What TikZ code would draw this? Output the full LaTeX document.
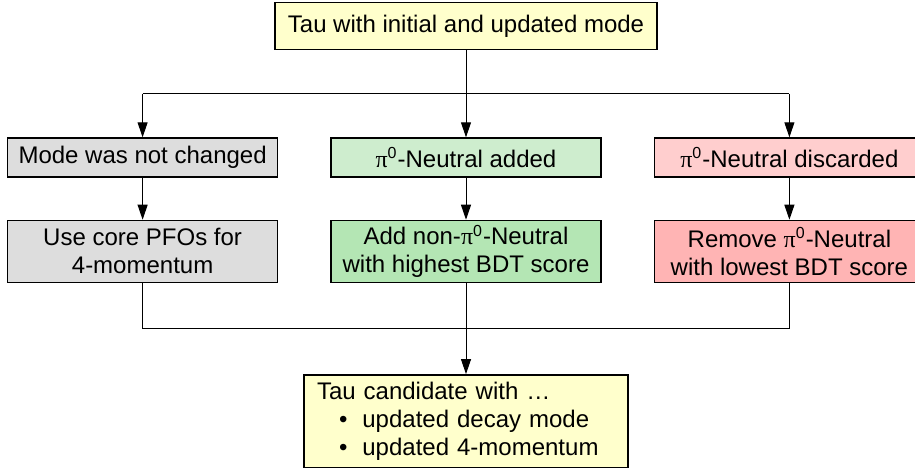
\documentclass[tikz,border=0pt]{standalone}
\usepackage{fontspec}
\setmainfont{Liberation Sans}
\newfontfamily\pifont{Liberation Serif}
\usetikzlibrary{arrows.meta, positioning, calc}

\definecolor{taufill}{RGB}{255,255,204}
\definecolor{keepfill}{RGB}{221,221,221}
\definecolor{addfill}{RGB}{206,237,206}
\definecolor{addfilldark}{RGB}{180,230,180}
\definecolor{dropfill}{RGB}{255,206,206}
\definecolor{dropfilldark}{RGB}{255,180,180}

\newcommand{\pizero}{{\pifont π}\textsuperscript{0}}

\begin{document}
\begin{tikzpicture}[
    x=0.5pt, y=-0.5pt,
    >={Triangle[length=7.5pt, width=5pt]},
    font=\fontsize{12}{14}\selectfont,
    node distance=26pt,
    box/.style={
      draw, line width=0.7pt,
      minimum width=135pt, inner sep=2pt,
      align=center},
    modebox/.style={box, minimum height=19.5pt},
    actionbox/.style={box, minimum height=31pt},
    taubox/.style={
      draw, line width=0.7pt, fill=taufill,
      inner xsep=6.5pt, inner ysep=2pt},
    link/.style={line width=0.5pt},
]
\useasboundingbox (0,0) rectangle (915,467);

\node[modebox, fill=addfill] (mid1) at (466,157.5) {\pizero-Neutral added};
\node[modebox, fill=keepfill, left=of mid1]  (left1)  {Mode was not changed};
\node[modebox, fill=dropfill, right=of mid1] (right1) {\pizero-Neutral discarded};

\node[actionbox, fill=addfilldark,  below=21pt of mid1]   (mid2)   {Add non-\pizero-Neutral\\with highest BDT score};
\node[actionbox, fill=keepfill,     below=21pt of left1]  (left2)  {Use core PFOs for\\4-momentum};
\node[actionbox, fill=dropfilldark, below=21pt of right1] (right2) {Remove \pizero-Neutral\\with lowest BDT score};

\node[taubox, minimum width=189.5pt, minimum height=23.5pt,
      above=43.5pt of mid1] (tau) {Tau with initial and updated mode};
\node[taubox, minimum height=46.5pt, text width=149pt, align=left,
      below=45.5pt of mid2] (result)
  {Tau candidate with …\\
   \hspace*{11pt}•\hspace*{7.5pt}updated decay mode\\
   \hspace*{11pt}•\hspace*{7.5pt}updated 4-momentum};

% ---- split into the three cases ----
\coordinate (split) at ($(mid1.north)!0.5!(tau.south -| mid1.north)$);
\draw[link, ->] (tau.south -| mid1.north) -- (mid1.north);
\draw[link] (split -| left1.north) -- (split -| right1.north);
\foreach \col in {left1, right1}
  \draw[link, ->] (split -| \col.north) -- (\col.north);

% ---- case to action ----
\foreach \col in {left, mid, right}
  \draw[link, ->] (\col1.south) -- (\col2.north);

% ---- merge into the result ----
\coordinate (merge) at ($(mid2.south)!0.5!(result.north)$);
\draw[link] (left2.south) |- (merge) -| (right2.south);
\draw[link, ->] (mid2.south) -- (result.north);

\end{tikzpicture}
\end{document}
